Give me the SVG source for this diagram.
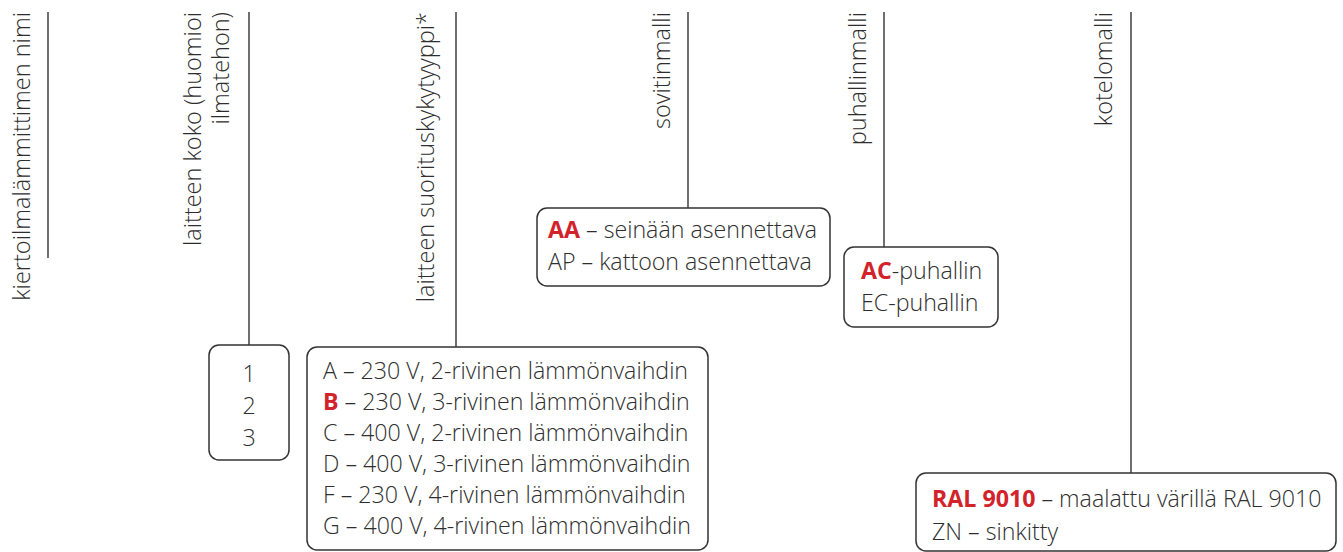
<svg xmlns="http://www.w3.org/2000/svg" width="1343" height="552" viewBox="0 0 1343 552">
<style>
text{font-family:"Open Sans","Liberation Sans",sans-serif;font-weight:300;font-size:23.2px;fill:#2e2e2e}
.v{text-anchor:end;font-size:23.5px}
.c{text-anchor:middle}
.r{fill:#d2232a;font-weight:700}
.box{fill:#fff;stroke:#333;stroke-width:1.5}
.ln{stroke:#333;stroke-width:1.4;fill:none}
</style>
<g id="connectors">
<line class="ln" x1="48" y1="12" x2="48" y2="258"/>
<line class="ln" x1="249" y1="12" x2="249" y2="345"/>
<line class="ln" x1="456" y1="12" x2="456" y2="347"/>
<line class="ln" x1="688" y1="12" x2="688" y2="208"/>
<line class="ln" x1="884" y1="12" x2="884" y2="247"/>
<line class="ln" x1="1131" y1="12" x2="1131" y2="473"/>
</g>
<g id="label-nimi">
<text class="v" transform="translate(30,12) rotate(-90)">kiertoilmalämmittimen nimi</text>
</g>
<g id="label-koko">
<text class="v" transform="translate(201,12) rotate(-90)">laitteen koko (huomioi</text>
<text class="v" transform="translate(229,12) rotate(-90)">ilmatehon)</text>
</g>
<g id="label-suoritus">
<text class="v" transform="translate(434,12) rotate(-90)">laitteen suorituskykytyyppi*</text>
</g>
<g id="label-sovitin">
<text class="v" transform="translate(670,12) rotate(-90)">sovitinmalli</text>
</g>
<g id="label-puhallin">
<text class="v" transform="translate(866,12) rotate(-90)">puhallinmalli</text>
</g>
<g id="label-kotelo">
<text class="v" transform="translate(1112,12) rotate(-90)">kotelomalli</text>
</g>
<g id="box-koko">
<rect class="box" x="209" y="345" width="80" height="115" rx="10"/>
<text class="c" x="249" y="382">1</text>
<text class="c" x="249" y="414">2</text>
<text class="c" x="249" y="446">3</text>
</g>
<g id="box-suoritus">
<rect class="box" x="307" y="347" width="401" height="203" rx="10"/>
<text x="323" y="379">A – 230 V, 2-rivinen lämmönvaihdin</text>
<text x="323" y="410"><tspan class="r">B</tspan> – 230 V, 3-rivinen lämmönvaihdin</text>
<text x="323" y="441">C – 400 V, 2-rivinen lämmönvaihdin</text>
<text x="323" y="472">D – 400 V, 3-rivinen lämmönvaihdin</text>
<text x="323" y="503">F – 230 V, 4-rivinen lämmönvaihdin</text>
<text x="323" y="534">G – 400 V, 4-rivinen lämmönvaihdin</text>
</g>
<g id="box-sovitin">
<rect class="box" x="537" y="208" width="293" height="78" rx="10"/>
<text x="548" y="238"><tspan class="r">AA</tspan> – seinään asennettava</text>
<text x="548" y="270">AP – kattoon asennettava</text>
</g>
<g id="box-puhallin">
<rect class="box" x="844" y="247" width="154" height="80" rx="10"/>
<text x="861" y="279"><tspan class="r">AC</tspan>-puhallin</text>
<text x="861" y="311">EC-puhallin</text>
</g>
<g id="box-kotelo">
<rect class="box" x="916" y="473" width="420" height="78" rx="10"/>
<text x="932" y="507"><tspan class="r">RAL 9010</tspan> – maalattu värillä RAL 9010</text>
<text x="932" y="540">ZN – sinkitty</text>
</g>
</svg>
